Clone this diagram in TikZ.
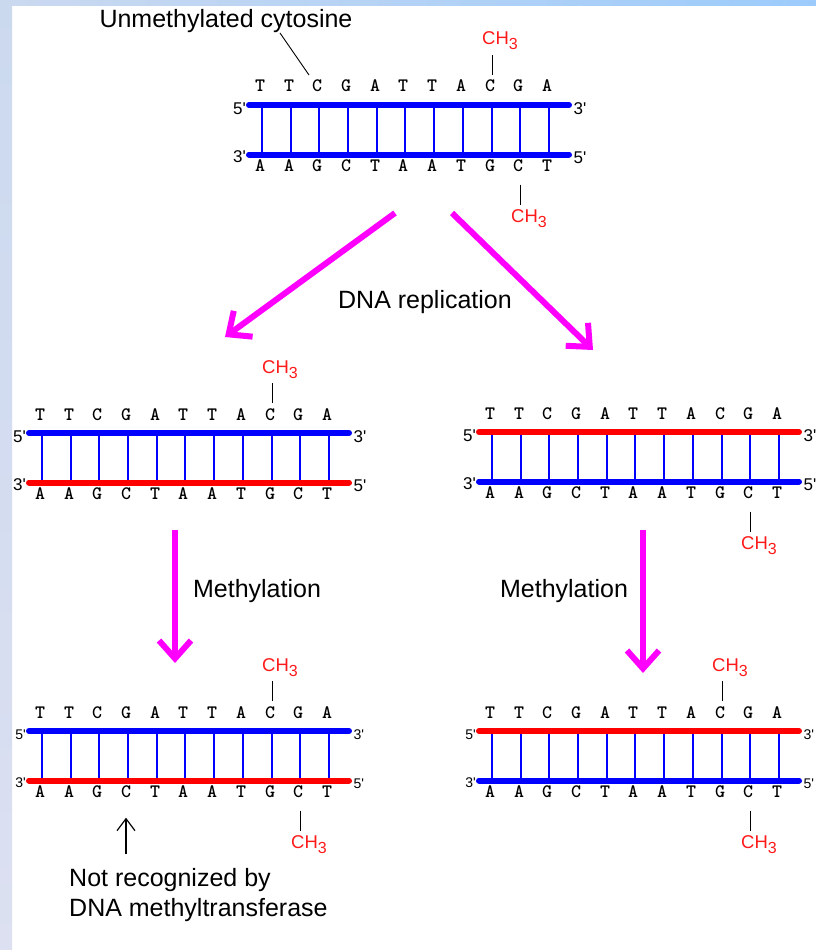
\documentclass[tikz,border=0pt]{standalone}
\usepackage{fontspec}
\setmainfont{Liberation Sans}
\usetikzlibrary{arrows.meta}
\definecolor{StrandBlue}{HTML}{0000FF}
\definecolor{StrandRed}{HTML}{FF0000}
\definecolor{ArrowMagenta}{HTML}{FF00FF}
\definecolor{MethylRed}{HTML}{FF1A1A}
\definecolor{EdgeBlue}{HTML}{9CCBFB}
\definecolor{EdgeGrey}{HTML}{CBD9EF}
\definecolor{EdgeLow}{HTML}{DCE0F1}

% one double strand: name, left end of upper strand, upper colour, lower colour, end-label font
\newcommand{\dnapair}[5]{%
  \begin{scope}[shift={(#2)}]
    \foreach \t/\b [count=\i from 0] in {T/A,T/A,C/G,G/C,A/T,T/A,T/A,A/T,C/G,G/C,A/T} {
      \pgfmathtruncatemacro\rx{13.5+28.7*\i}
      \draw[rung] (\rx,0) -- (\rx,49.5);
      \node[nuc] (#1t\i) at (\rx-2,-13) {\t};
      \node[nuc] (#1b\i) at (\rx-2,66.7) {\b};
    }
    \draw[strand,#3] (0,0) -- (320,0);
    \draw[strand,#4] (0,49.5) -- (320,49.5);
    \node[endlab,#5,anchor=east] (#1tl) at (-3,4) {5\textquotesingle};
    \node[endlab,#5,anchor=west] (#1tr) at (324.5,4) {3\textquotesingle};
    \node[endlab,#5,anchor=east] (#1bl) at (-3,52) {3\textquotesingle};
    \node[endlab,#5,anchor=west] (#1br) at (324.5,53) {5\textquotesingle};
  \end{scope}}
% methyl group above / below a nucleotide: name, nucleotide node
\newcommand{\chup}[2]{%
  \node[methyl] (#1) at ([shift={(-8,-47)}]#2.base) {CH\raisebox{-5pt}{\fontsize{16}{16}\selectfont 3}};
  \draw[tick] ([shift={(2,-17)}]#2.base) -- ([shift={(2,-37)}]#2.base);}
\newcommand{\chdown}[2]{%
  \node[methyl] (#1) at ([shift={(-7,51)}]#2.base) {CH\raisebox{-5pt}{\fontsize{16}{16}\selectfont 3}};
  \draw[tick] ([shift={(2,13)}]#2.base) -- ([shift={(2,33)}]#2.base);}

\begin{document}
\begin{tikzpicture}[x=1pt, y=-1pt,
  strand/.style={line width=6pt, line cap=round},
  rung/.style={draw=StrandBlue, line width=2pt},
  nuc/.style={font=\ttfamily\bfseries\fontsize{19}{19}\selectfont, inner sep=0pt, anchor=base},
  endlab/.style={font=\fontsize{17}{17}\selectfont, inner sep=0pt},
  methyl/.style={text=MethylRed, font=\fontsize{18.5}{18.5}\selectfont, inner sep=0pt, anchor=base west},
  tick/.style={draw=black, line width=0.9pt},
  lab/.style={font=\fontsize{25}{30}\selectfont, inner sep=0pt},
  rep/.style={draw=ArrowMagenta, line width=6pt, -{Straight Barb[length=18pt,width=32pt]}},
  ptr/.style={draw=black, line width=1.2pt, -{Straight Barb[length=12pt,width=18pt]}},
]
\clip (0,0) rectangle (816,950);
\fill[white] (0,0) rectangle (816,950);

% frame of the slide
\shade[left color=EdgeGrey, right color=EdgeBlue] (0,0) rectangle (816,6);
\shade[top color=EdgeGrey, bottom color=EdgeLow] (0,0) rectangle (12,950);

%% -- parent duplex -------------------------------------------------
\dnapair{T}{249,105}{StrandBlue}{StrandBlue}{}
\chup{Tme}{Tt8}
\chdown{Tmb}{Tb9}

\node[lab, anchor=base] (unmeth) at (226,28) {Unmethylated cytosine};
\draw[tick] ([shift={(54,5)}]unmeth.base) -- ([shift={(-8,-17)}]Tt2.base);

%% -- replication ---------------------------------------------------
\coordinate (repL0) at (395,213);
\coordinate (repL1) at (225,337);
\coordinate (repR0) at (452,213);
\coordinate (repR1) at (593,350);
\draw[rep] (repL0) -- (repL1);
\draw[rep] (repR0) -- (repR1);
\node[lab, anchor=base] (repl) at (425,308) {DNA replication};

%% -- hemimethylated daughters --------------------------------------
\dnapair{ML}{29,433}{StrandBlue}{StrandRed}{}
\chup{MLme}{MLt8}

\dnapair{MR}{479,432}{StrandRed}{StrandBlue}{}
\chdown{MRme}{MRb9}

%% -- methylation ---------------------------------------------------
\coordinate (metL0) at (175,530);
\coordinate (metL1) at (175,663);
\coordinate (metR0) at (643,530);
\coordinate (metR1) at (643,673);
\draw[rep] (metL0) -- (metL1);
\draw[rep] (metR0) -- (metR1);
\node[lab, anchor=base] (methL) at (257,597) {Methylation};
\node[lab, anchor=base] (methR) at (564,597) {Methylation};

%% -- fully methylated ----------------------------------------------
\dnapair{BL}{29,731}{StrandBlue}{StrandRed}{font=\fontsize{14}{14}\selectfont}
\chup{BLme}{BLt8}
\chdown{BLmb}{BLb9}

\dnapair{BR}{479,731}{StrandRed}{StrandBlue}{font=\fontsize{14}{14}\selectfont}
\chup{BRme}{BRt8}
\chdown{BRmb}{BRb9}

\node[lab, anchor=base west, align=left] (notrec) at (69,916)
  {Not recognized by\\DNA methyltransferase};
\draw[ptr, shorten <=14pt, shorten >=20pt] (notrec.north -| BLb3.base) -- (BLb3.base);

\end{tikzpicture}
\end{document}
